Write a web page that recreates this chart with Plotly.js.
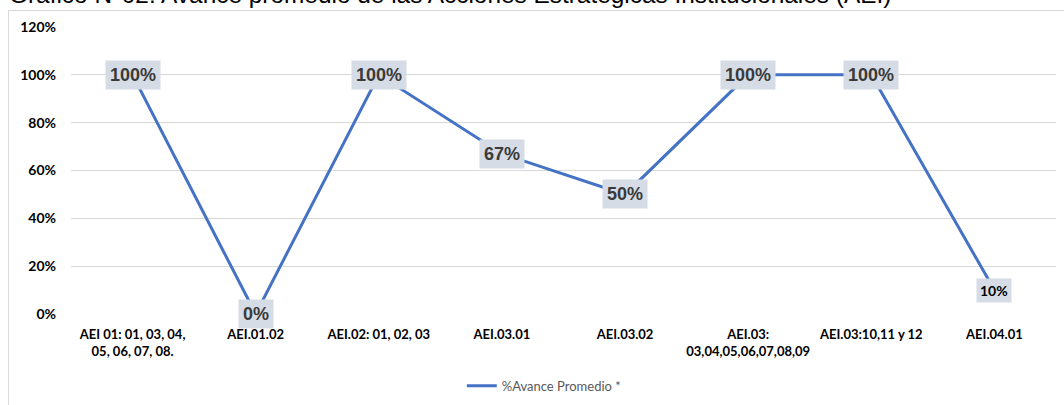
<!DOCTYPE html>
<html>
<head>
<meta charset="utf-8">
<script src="https://cdn.plot.ly/plotly-3.0.1.min.js"></script>
<style>
html,body{margin:0;padding:0;background:#fff;}
#frame{position:absolute;left:8px;top:10px;width:1070px;height:420px;border-left:1px solid #d9d9d9;border-top:1px solid #d9d9d9;}
#chart{position:absolute;left:0;top:0;width:1064px;height:405px;}
</style>
</head>
<body>
<div id="frame"></div>
<div id="chart"></div>
<script>
const titleText = "Gráfico N°02: Avance promedio de las Acciones Estratégicas Institucionales (AEI)";
const categories = [
  "AEI 01: 01, 03, 04,<br>05, 06, 07, 08.",
  "AEI.01.02",
  "AEI.02: 01, 02, 03",
  "AEI.03.01",
  "AEI.03.02",
  "AEI.03:<br>03,04,05,06,07,08,09",
  "AEI.03:10,11 y 12",
  "AEI.04.01"
];
const avance = [1.00, 0.00, 1.00, 0.67, 0.50, 1.00, 1.00, 0.10];
const seriesName = "%Avance Promedio *";
const yTickVals = [0, 0.2, 0.4, 0.6, 0.8, 1.0, 1.2];
const yTickText = ["0%", "20%", "40%", "60%", "80%", "100%", "120%"];

const trace = {
  x: categories,
  y: avance,
  type: "scatter",
  mode: "lines",
  name: seriesName,
  line: {color: "#4472C4", width: 3},
  hoverinfo: "skip"
};

const annotations = avance.map((v, i) => {
  const last = i === avance.length - 1;
  return {
    x: categories[i], y: v, xref: "x", yref: "y",
    text: Math.round(v * 100) + "%",
    showarrow: false,
    bgcolor: "#D6DCE5",
    borderpad: last ? 3 : 4,
    font: last
      ? {family: "Lato, 'Liberation Sans', sans-serif", size: 14, color: "#000000", weight: 700}
      : {family: "'Liberation Sans', Arial, sans-serif", size: 18, color: "#3A3A3A", weight: 700},
    xanchor: "center", yanchor: "middle"
  };
});

annotations.push({
  xref: "paper", yref: "paper", x: -0.065, y: 1, xanchor: "left", yanchor: "bottom",
  yshift: 17, showarrow: false, text: titleText,
  font: {family: "'Liberation Sans', Arial, sans-serif", size: 24.4, color: "#000000"}
});

const layout = {
  width: 1064, height: 405,
  margin: {l: 71, r: 8, t: 27, b: 91, autoexpand: false},
  paper_bgcolor: "rgba(0,0,0,0)",
  plot_bgcolor: "rgba(0,0,0,0)",
  showlegend: true,
  legend: {
    orientation: "h", x: 0.48, xanchor: "center", y: -0.25, yanchor: "middle",
    font: {family: "Lato, sans-serif", size: 13, color: "#595959"},
    itemwidth: 30
  },
  xaxis: {
    type: "category",
    range: [-0.5, categories.length - 0.5],
    showgrid: false, zeroline: false, showline: false,
    ticks: "",
    automargin: false,
    ticklabelstandoff: 11,
    tickfont: {family: "Lato, sans-serif", size: 13, color: "#000000", weight: 700},
    fixedrange: true
  },
  yaxis: {
    range: [0, 1.2],
    tickvals: yTickVals, ticktext: yTickText,
    showgrid: true, gridcolor: "#D9D9D9", gridwidth: 1,
    zeroline: false, showline: false, ticks: "",
    automargin: false,
    ticklabelstandoff: 14,
    tickfont: {family: "Lato, sans-serif", size: 14, color: "#000000", weight: 700},
    fixedrange: true
  },
  annotations: annotations
};

Plotly.newPlot("chart", [trace], layout, {displayModeBar: false, staticPlot: true});
</script>
</body>
</html>
